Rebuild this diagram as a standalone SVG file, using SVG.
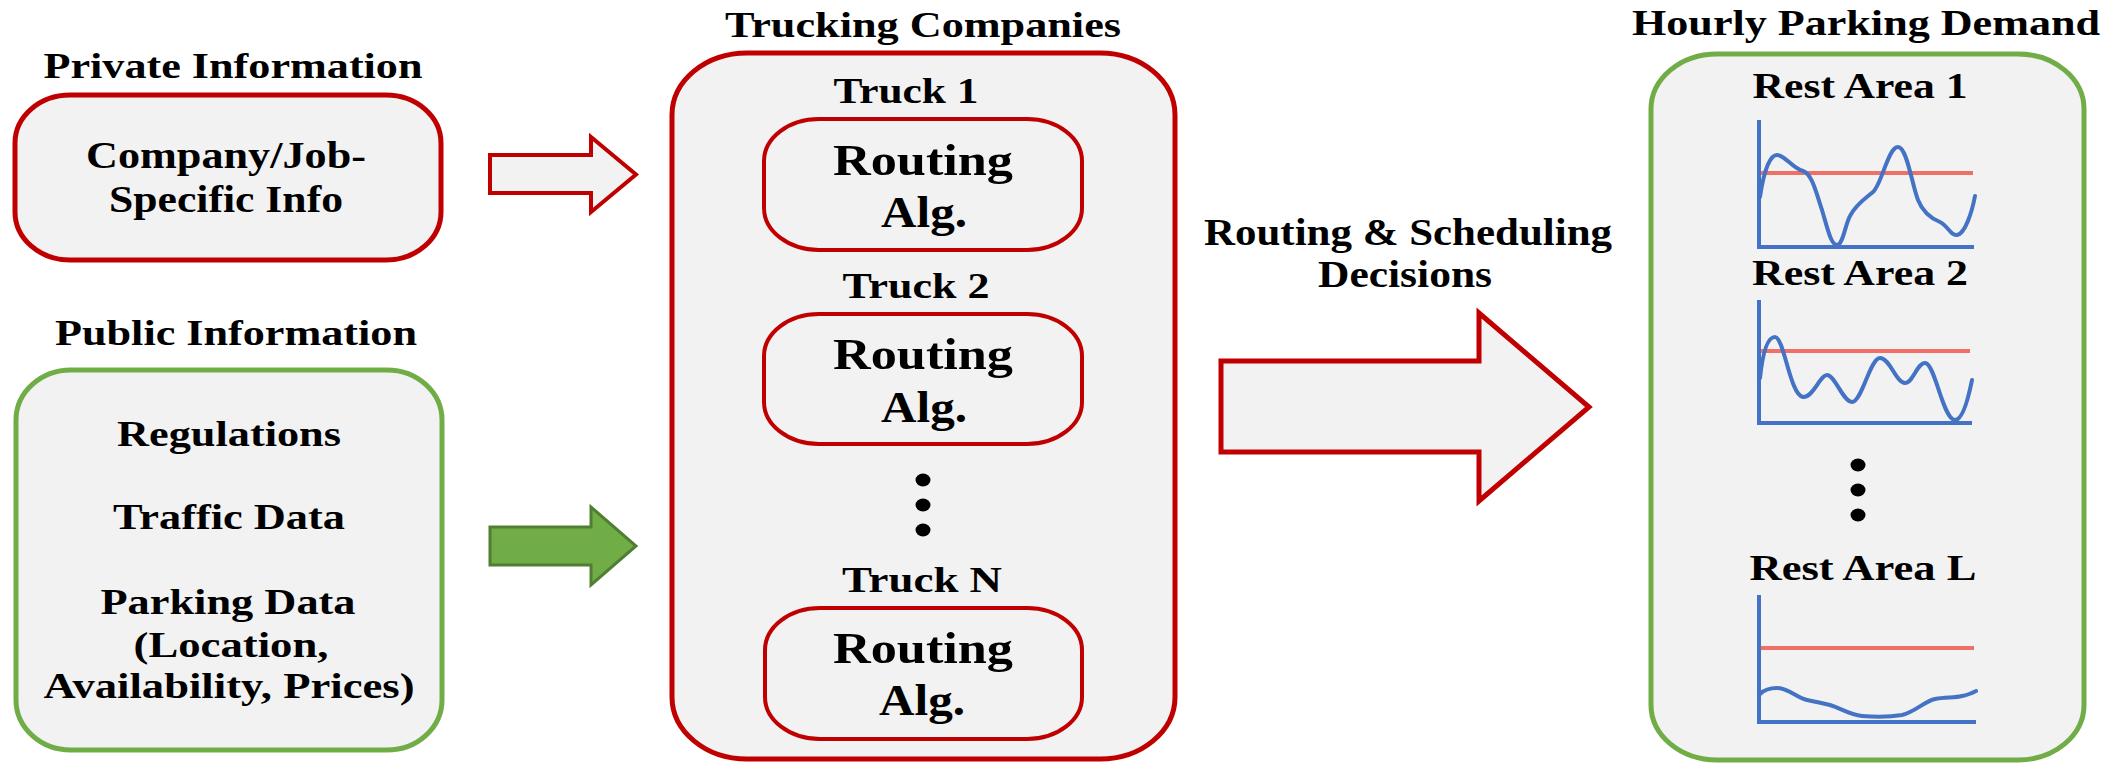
<svg xmlns="http://www.w3.org/2000/svg" width="2123" height="765" viewBox="0 0 2123 765">
  <style>
    text { font-family: "Liberation Serif", "Times New Roman", serif; font-weight: bold; fill: #000; text-anchor: middle; }
    .t36 { font-size: 36px; }
    .t37 { font-size: 37px; }
    .t35 { font-size: 35px; }
    .t45 { font-size: 45px; }
    .red { fill: #F2F2F2; stroke: #C00000; stroke-width: 5; }
    .redthin { fill: #F2F2F2; stroke: #C00000; stroke-width: 4; }
    .grn { fill: #F2F2F2; stroke: #70AD47; stroke-width: 5; }
    .axis { fill: none; stroke: #4472C4; stroke-width: 4; }
    .cap { fill: none; stroke: #F07068; stroke-width: 4; }
    .curve { fill: none; stroke: #4472C4; stroke-width: 4; stroke-linecap: round; stroke-linejoin: round; }
    .dot { fill: #000; }
  </style>

  <!-- Private information -->
  <g id="private-info">
    <text class="t36" x="233" y="78" textLength="379" lengthAdjust="spacingAndGlyphs">Private Information</text>
    <rect class="red" x="15" y="95" width="426" height="165" rx="55" ry="48"/>
    <text class="t37" x="226" y="168" textLength="280" lengthAdjust="spacingAndGlyphs">Company/Job-</text>
    <text class="t37" x="226" y="212" textLength="234" lengthAdjust="spacingAndGlyphs">Specific Info</text>
  </g>

  <!-- Public information -->
  <g id="public-info">
    <text class="t36" x="236" y="345" textLength="362" lengthAdjust="spacingAndGlyphs">Public Information</text>
    <rect class="grn" x="16" y="370" width="426" height="380" rx="55" ry="50"/>
    <text class="t36" x="229" y="446" textLength="224" lengthAdjust="spacingAndGlyphs">Regulations</text>
    <text class="t36" x="229" y="529" textLength="232" lengthAdjust="spacingAndGlyphs">Traffic Data</text>
    <text class="t36" x="228" y="614" textLength="255" lengthAdjust="spacingAndGlyphs">Parking Data</text>
    <text class="t36" x="231" y="657" textLength="195" lengthAdjust="spacingAndGlyphs">(Location,</text>
    <text class="t36" x="229" y="698" textLength="371" lengthAdjust="spacingAndGlyphs">Availability, Prices)</text>
  </g>

  <!-- Trucking companies -->
  <g id="trucking-companies">
    <text class="t36" x="923" y="37" textLength="396" lengthAdjust="spacingAndGlyphs">Trucking Companies</text>
    <rect class="red" x="672" y="53" width="503" height="706" rx="75" ry="62"/>
  </g>

  <g id="truck-1">
    <text class="t35" x="906" y="103" textLength="145" lengthAdjust="spacingAndGlyphs">Truck 1</text>
    <rect class="redthin" x="764" y="119" width="318" height="131" rx="55" ry="42"/>
    <text class="t45" x="923" y="175" textLength="180" lengthAdjust="spacingAndGlyphs">Routing</text>
    <text class="t45" x="924" y="227" textLength="86" lengthAdjust="spacingAndGlyphs">Alg.</text>
  </g>

  <g id="truck-2">
    <text class="t35" x="916" y="298" textLength="147" lengthAdjust="spacingAndGlyphs">Truck 2</text>
    <rect class="redthin" x="764" y="314" width="318" height="130" rx="55" ry="42"/>
    <text class="t45" x="923" y="369" textLength="180" lengthAdjust="spacingAndGlyphs">Routing</text>
    <text class="t45" x="924" y="422" textLength="86" lengthAdjust="spacingAndGlyphs">Alg.</text>
  </g>

  <g id="truck-dots">
    <ellipse class="dot" cx="923" cy="480" rx="7.5" ry="6.5"/>
    <ellipse class="dot" cx="923" cy="505" rx="7.5" ry="6.5"/>
    <ellipse class="dot" cx="923" cy="530" rx="7.5" ry="6.5"/>
  </g>

  <g id="truck-n">
    <text class="t35" x="922" y="592" textLength="160" lengthAdjust="spacingAndGlyphs">Truck N</text>
    <rect class="redthin" x="765" y="608" width="317" height="131" rx="55" ry="42"/>
    <text class="t45" x="923" y="663" textLength="180" lengthAdjust="spacingAndGlyphs">Routing</text>
    <text class="t45" x="922" y="715" textLength="86" lengthAdjust="spacingAndGlyphs">Alg.</text>
  </g>

  <!-- Hourly parking demand -->
  <g id="parking-demand">
    <text class="t36" x="1866" y="35" textLength="468" lengthAdjust="spacingAndGlyphs">Hourly Parking Demand</text>
    <rect class="grn" x="1651" y="54" width="433" height="706" rx="66" ry="55"/>
  </g>

  <g id="rest-area-1">
    <text class="t36" x="1860" y="98" textLength="215" lengthAdjust="spacingAndGlyphs">Rest Area 1</text>
    <line class="cap" x1="1759" y1="173" x2="1973" y2="173"/>
    <path class="axis" d="M1759,120 V247 H1974"/>
    <path class="curve" d="M1760,197 C1764,170 1770,155 1777,155 C1785,155 1792,168 1803,171 C1812,174 1816,192 1822,210 C1828,230 1831,245 1837,245 C1843,245 1845,225 1850,216 C1856,204 1866,198 1873,192 C1882,184 1888,147 1898,147 C1907,147 1912,185 1918,200 C1922,210 1930,218 1940,222 C1948,226 1951,236 1957,235 C1965,234 1972,212 1975,196"/>
  </g>

  <g id="rest-area-2">
    <text class="t36" x="1860" y="285" textLength="216" lengthAdjust="spacingAndGlyphs">Rest Area 2</text>
    <line class="cap" x1="1759" y1="351" x2="1970" y2="351"/>
    <path class="axis" d="M1759,300 V423 H1972"/>
    <path class="curve" d="M1760,378 C1763,350 1768,337 1775,337 C1784,337 1790,395 1803,397 C1813,398 1820,375 1827,375 C1835,375 1843,402 1852,402 C1862,402 1870,358 1880,358 C1890,358 1896,383 1905,383 C1913,383 1917,363 1925,363 C1935,363 1943,420 1955,420 C1963,420 1969,395 1972,380"/>
  </g>

  <g id="rest-dots">
    <ellipse class="dot" cx="1858" cy="465" rx="7.5" ry="6.5"/>
    <ellipse class="dot" cx="1858" cy="490" rx="7.5" ry="6.5"/>
    <ellipse class="dot" cx="1858" cy="515" rx="7.5" ry="6.5"/>
  </g>

  <g id="rest-area-l">
    <text class="t36" x="1863" y="580" textLength="227" lengthAdjust="spacingAndGlyphs">Rest Area L</text>
    <line class="cap" x1="1759" y1="648" x2="1974" y2="648"/>
    <path class="axis" d="M1759,595 V722 H1976"/>
    <path class="curve" d="M1760,694 C1765,689 1772,688 1777,688 C1788,688 1797,698 1807,700 C1817,702 1822,703 1830,705 C1840,708 1850,715 1862,716 C1875,717 1890,717 1902,715 C1915,712 1925,701 1935,699 C1945,697 1955,698 1962,696 C1968,695 1972,693 1976,691"/>
  </g>

  <!-- Connectors: block arrows -->
  <g id="connectors">
    <polygon points="490,155 591,155 591,137 636,174.5 591,212 591,193 490,193" fill="#F2F2F2" stroke="#C00000" stroke-width="4"/>
    <polygon points="490,527 591,527 591,507 636,546 591,585 591,565 490,565" fill="#70AD47" stroke="#507E32" stroke-width="3"/>
    <polygon points="1221,361 1479,361 1479,313 1589,407 1479,501 1479,452 1221,452" fill="#F2F2F2" stroke="#C00000" stroke-width="5"/>
    <text class="t37" x="1408" y="245" textLength="408" lengthAdjust="spacingAndGlyphs">Routing &amp; Scheduling</text>
    <text class="t37" x="1405" y="287" textLength="174" lengthAdjust="spacingAndGlyphs">Decisions</text>
  </g>
</svg>
